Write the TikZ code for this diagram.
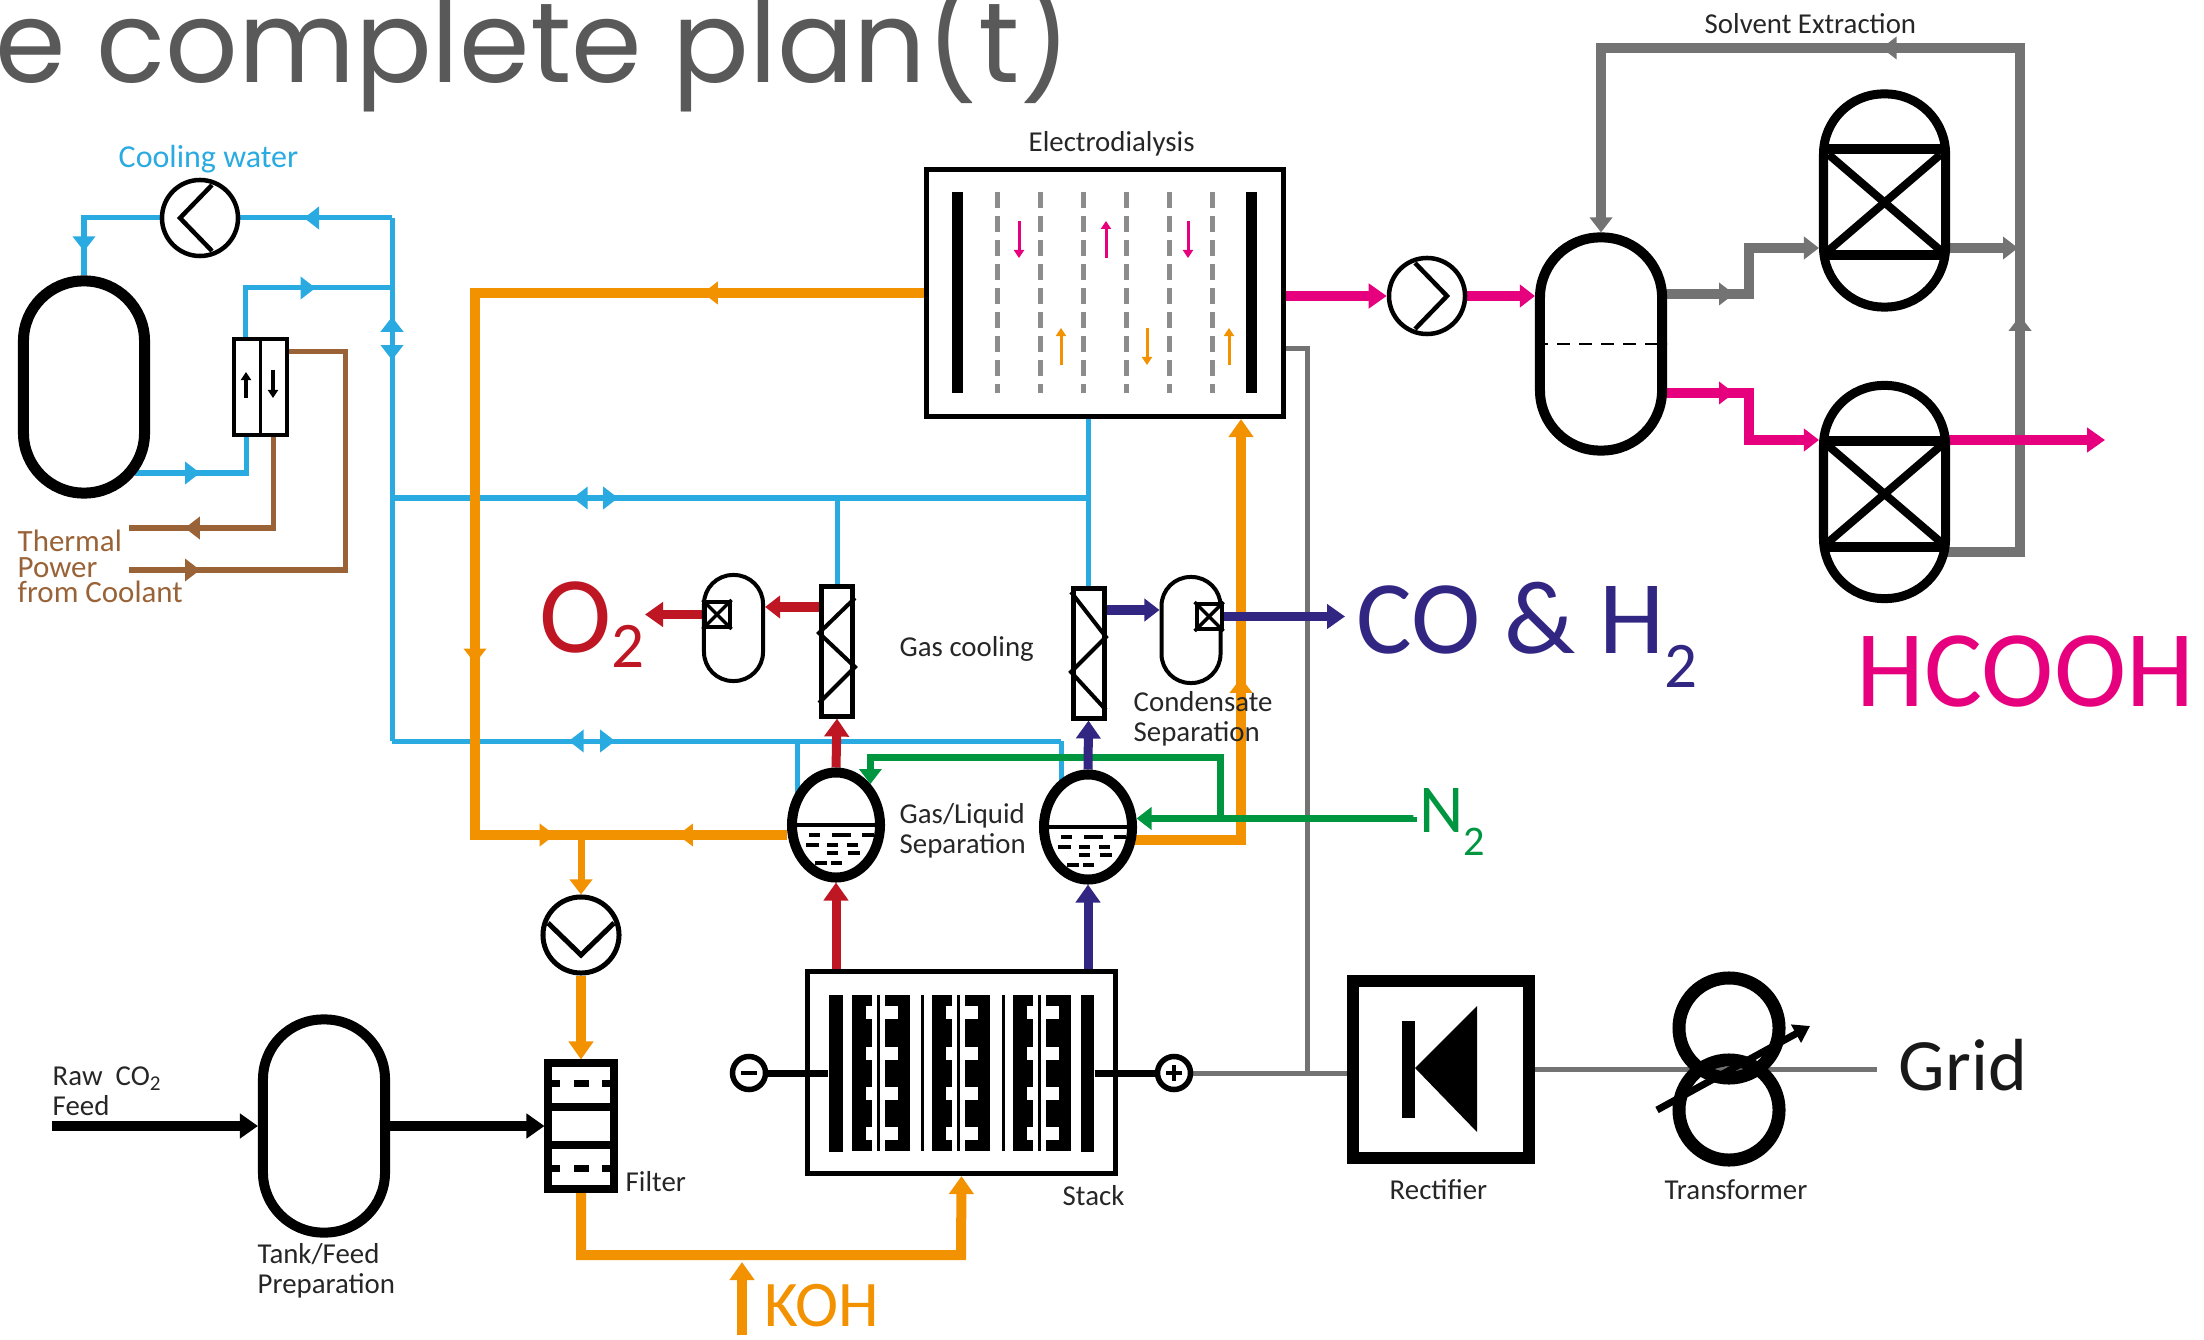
\documentclass[tikz,border=0pt]{standalone}
\usepackage{fontspec}
\setmainfont{Carlito}
\newfontfamily\titlefont{Poppins}
\usetikzlibrary{arrows.meta,calc,shapes.geometric,backgrounds,decorations.markings}

\definecolor{coolblue}{HTML}{29ABE2}
\definecolor{kohorange}{HTML}{F39200}
\definecolor{heatbrown}{HTML}{996337}
\definecolor{oxred}{HTML}{BE1622}
\definecolor{syngas}{HTML}{312783}
\definecolor{nitrogreen}{HTML}{009640}
\definecolor{acidpink}{HTML}{E6007E}
\definecolor{solventgray}{HTML}{737373}
\definecolor{titlegray}{HTML}{595959}

\tikzset{
    tipflow/.tip={Triangle[width=0.22cm,length=0.15cm]},
    tipend/.tip={Triangle[width=0.24cm,length=0.18cm]},
    tiptiny/.tip={Triangle[width=0.1cm,length=0.08cm]},
    flow/.style={postaction={decorate,decoration={markings,mark=at position #1 with {\arrow{tipflow}}}}},
    bluepipe/.style={coolblue,line width=0.05cm},
    brownpipe/.style={heatbrown,line width=0.05cm},
    orangepipe/.style={kohorange,line width=0.1cm},
    greenpipe/.style={nitrogreen,line width=0.07cm},
    redpipe/.style={oxred,line width=0.09cm},
    purplepipe/.style={syngas,line width=0.09cm},
    pinkpipe/.style={acidpink,line width=0.1cm},
    graypipe/.style={solventgray,line width=0.1cm},
    wire/.style={solventgray,line width=0.05cm},
    feedpipe/.style={black,line width=0.1cm},
    pill/.style={draw,fill=white,inner sep=0pt,line width=0.1cm,minimum width=1.22cm,minimum height=2.13cm,rounded corners=0.6cm},
    condpill/.style={draw,fill=white,inner sep=0pt,line width=0.04cm,minimum width=0.59cm,minimum height=1.06cm,rounded corners=0.29cm},
    pump/.style={draw,fill=white,circle,inner sep=0pt,line width=0.045cm,minimum size=0.76cm},
    chevron/.style={line width=0.045cm},
    panel/.style={draw,fill=white,rectangle,inner sep=0pt,line width=0.05cm},
    gascooler/.style={panel,minimum width=0.31cm,minimum height=1.29cm},
    separator/.style={draw,fill=white,ellipse,inner sep=0pt,line width=0.1cm,minimum width=0.88cm,minimum height=1.05cm},
    trapbox/.style={panel,line width=0.04cm,minimum width=0.25cm,minimum height=0.25cm},
    terminal/.style={draw,fill=white,circle,inner sep=0pt,line width=0.055cm,minimum size=0.33cm},
    membrane/.style={color=black!45,line width=0.05cm,dash pattern=on 0.16cm off 0.08cm},
    coil/.style={draw,circle,inner sep=0pt,line width=0.13cm,minimum size=1cm},
    lbl/.style={anchor=base west,inner sep=0pt,align=left,text=black!85,font=\fontsize{8.2}{8.3}\selectfont},
    biglbl/.style={anchor=base west,inner sep=0pt,font=\fontsize{#1}{#1}\selectfont},
}

\begin{document}
\begin{tikzpicture}[x=0.01cm,y=-0.01cm]
    \useasboundingbox (0,0) rectangle (2204,1340);

    % Title
    \node[anchor=base west,inner sep=0pt,text=titlegray,font=\titlefont\fontsize{32.3}{32.3}\selectfont] (title) at (-5,83) {e complete plan(t)};

    % Cooling loop equipment
    \node[pill,line width=0.11cm,minimum width=1.21cm,minimum height=2.12cm] (tankcool) at (84,387) {};
    \node[pump] (pumpcool) at (200,218) {};
    \node[panel,line width=0.04cm,minimum width=0.53cm,minimum height=0.96cm] (hxcool) at (260.5,387) {};
    \draw[line width=0.035cm] (hxcool.north) -- (hxcool.south);
    \draw[line width=0.035cm,-{tiptiny}] (246,398) -- (246,372);
    \draw[line width=0.035cm,-{tiptiny}] (273,370) -- (273,398);
    \draw[chevron] ($(pumpcool)+(12,-33)$) -- ($(pumpcool)+(-20,0)$) -- ($(pumpcool)+(12,33)$);

    % Electrodialysis
    \node[panel,minimum width=3.57cm,minimum height=2.47cm] (electrodialysis) at (1105,293) {};
    \fill (952,192) rectangle (963,393);
    \fill (1246,192) rectangle (1257,393);
    \foreach \mx in {997,1040,1083,1126,1169,1212}
        \draw[membrane] (\mx,192) -- (\mx,393);
    \foreach \ax/\ay/\by in {1019/221/258,1106/258/221,1188/221/258}
        \draw[acidpink,line width=0.03cm,-{tiptiny}] (\ax,\ay) -- (\ax,\by);
    \foreach \ax/\ay/\by in {1061/365/328,1147/328/365,1229/365/328}
        \draw[kohorange,line width=0.03cm,-{tiptiny}] (\ax,\ay) -- (\ax,\by);

    % Solvent extraction
    \node[pump] (pumpsolv) at (1427,296) {};
    \draw[chevron] ($(pumpsolv)+(-12,-33)$) -- ($(pumpsolv)+(20,0)$) -- ($(pumpsolv)+(-12,33)$);
    \node[pill] (solvent) at (1601,344) {};
    \draw[line width=0.025cm,dash pattern=on 0.13cm off 0.09cm] (solvent.west |- 0,344) -- (solvent.east |- 0,344);
    \node[pill,line width=0.09cm] (columnA) at (1884.5,200.5) {};
    \node[pill,line width=0.09cm] (columnB) at (1884.5,492) {};
    \foreach \colname in {columnA,columnB} {
        \draw[line width=0.1cm] ($(\colname)+(-61,-51)$) -- ($(\colname)+(61,-51)$);
        \draw[line width=0.1cm] ($(\colname)+(-61,55)$) -- ($(\colname)+(61,55)$);
        \draw[line width=0.08cm] ($(\colname)+(-56,-46)$) -- ($(\colname)+(56,50)$);
        \draw[line width=0.08cm] ($(\colname)+(-56,50)$) -- ($(\colname)+(56,-46)$);
    }

    % Gas cooling and condensate traps
    \node[gascooler] (coolerA) at (837,651.5) {};
    \node[gascooler] (coolerB) at (1088.5,653.5) {};
    \draw[line width=0.04cm] (855,598) -- (819,633) -- (855,667) -- (819,703);
    \draw[line width=0.04cm] (1071,592) -- (1106,637) -- (1071,672) -- (1106,710);
    \node[condpill] (trapA) at (733.5,628) {};
    \node[condpill] (trapB) at (1191,630) {};
    \node[trapbox] (boxA) at (717,614.5) {};
    \node[trapbox] (boxB) at (1209,616.5) {};
    \foreach \boxname in {boxA,boxB} {
        \draw[line width=0.035cm] (\boxname.north west) -- (\boxname.south east);
        \draw[line width=0.035cm] (\boxname.south west) -- (\boxname.north east);
    }

    % Gas/liquid separators
    \node[separator] (sepA) at (836,825) {};
    \node[separator] (sepB) at (1088,827) {};
    \foreach \sepname in {sepA,sepB} {
        \draw[line width=0.04cm] (\sepname.west) -- (\sepname.east);
        \foreach \dx/\dy/\dl in {-27/10/11,-4/10/19,26/10/12,-30/20/13,-9/20/11,11/20/11,-9/28/11,12/28/12,-21/38/12,-5/38/11}
            \draw[line width=0.035cm] ($(\sepname)+(\dx,\dy)$) -- ++(\dl,0);
    }

    % Feed side
    \node[pill] (tankfeed) at (324,1126) {};
    \node[pump,line width=0.05cm] (pumpkoh) at (581,935) {};
    \draw[chevron,line width=0.05cm] ($(pumpkoh)+(-33,-12)$) -- ($(pumpkoh)+(0,20)$) -- ($(pumpkoh)+(33,-12)$);
    \node[panel,line width=0.08cm,minimum width=0.65cm,minimum height=1.25cm] (filter) at (581,1126) {};
    \foreach \fy in {1107,1145}
        \draw[line width=0.08cm] (filter.west |- 0,\fy) -- (filter.east |- 0,\fy);
    \foreach \fy in {1083,1168} {
        \draw[line width=0.07cm] (550,\fy) -- (560,\fy);
        \draw[line width=0.07cm] (574,\fy) -- (589,\fy);
        \draw[line width=0.07cm] (602,\fy) -- (613,\fy);
    }

    % Stack
    \node[draw,rectangle,inner sep=0pt,line width=0.05cm,minimum width=3.08cm,minimum height=2.02cm] (stack) at (961.5,1072.5) {};
    \node[fill=black,inner sep=0pt,minimum width=0.14cm,minimum height=1.57cm] (plateL) at (836,1073.5) {};
    \node[fill=black,inner sep=0pt,minimum width=0.13cm,minimum height=1.57cm] (plateR) at (1087.5,1073.5) {};
    \foreach \ux in {0,80,161} {
        \fill ($(852,995)+(\ux,0)$) rectangle ($(872,1151)+(\ux,0)$);
        \fill ($(885,995)+(\ux,0)$) rectangle ($(910,1151)+(\ux,0)$);
        \fill ($(877,995)+(\ux,0)$) rectangle ($(879.5,1151)+(\ux,0)$);
        \foreach \ny in {1006,1047,1087,1127} {
            \fill[white] ($(866,\ny)+(\ux,0)$) rectangle ($(873,\ny+13)+(\ux,0)$);
            \fill[white] ($(884,\ny)+(\ux,0)$) rectangle ($(898,\ny+13)+(\ux,0)$);
        }
    }
    \foreach \tx in {921,1002}
        \fill (\tx,995) rectangle (\tx+2.5,1151);
    \node[terminal] (termminus) at (749,1073) {};
    \node[terminal] (termplus) at (1174,1073) {};
    \draw[line width=0.04cm] (741,1073) -- (757,1073);
    \draw[line width=0.04cm] (1166,1073) -- (1182,1073);
    \draw[line width=0.04cm] (1174,1065) -- (1174,1081);

    % Rectifier and transformer
    \node[draw,rectangle,fill=white,inner sep=0pt,line width=0.12cm,minimum width=1.76cm,minimum height=1.77cm] (rectifier) at (1441,1069.5) {};
    \fill (1402,1021) rectangle (1415,1118);
    \fill (1415,1068) -- (1477,1006) -- (1477,1132) -- cycle;
    \node[coil] (coilU) at (1729,1028) {};
    \node[coil] (coilL) at (1729,1110) {};
    \coordinate (trafotail) at (1657,1110);
    \coordinate (trafotip) at (1810,1026);
    \draw[line width=0.07cm,-{Triangle[width=0.2cm,length=0.16cm]}] (trafotail) -- (trafotip);

    % Labels
    \node[lbl] (lblelectro) at (1028,152) {Electrodialysis};
    \node[lbl] (lblsolvent) at (1704,34) {Solvent Extraction};
    \node[lbl] (lblgascool) at (899,656) {Gas cooling};
    \node[lbl] (lblcond) at (1133,741) {Condensate\\Separation};
    \node[lbl] (lblgasliq) at (899,853) {Gas/Liquid\\Separation};
    \node[lbl] (lblfilter) at (625,1191) {Filter};
    \node[lbl] (lblstack) at (1062,1205) {Stack};
    \node[lbl] (lblrect) at (1389,1199) {Rectifier};
    \node[lbl] (lbltrafo) at (1664,1199) {Transformer};
    \node[lbl] (lblraw) at (52,1115) {Raw\ \ CO\raisebox{-0.05cm}{\fontsize{6}{6}\selectfont 2}\\Feed};
    \node[lbl] (lbltank) at (257,1293) {Tank/Feed\\Preparation};
    \node[lbl,text=coolblue,font=\fontsize{9.1}{9.1}\selectfont] (lblcool) at (118,168) {Cooling water};
    \node[lbl,text=heatbrown,font=\fontsize{8.8}{7.3}\selectfont] (lblheat) at (17,603) {Thermal\\Power\\from Coolant};
    \node[biglbl=31,text=oxred] (lblox) at (539,652) {O\raisebox{-0.15cm}{\fontsize{18.5}{18.5}\selectfont 2}};
    \node[biglbl=29.7,text=syngas] (lblsyngas) at (1356,653) {CO \& H\raisebox{-0.34cm}{\fontsize{18.5}{18.5}\selectfont 2}};
    \node[biglbl=31,text=acidpink] (lblacid) at (1856,706) {HCOOH};
    \node[biglbl=19.5,text=nitrogreen] (lblnitro) at (1419,832) {N\raisebox{-0.23cm}{\fontsize{12}{12}\selectfont 2}};
    \node[biglbl=18.5,text=kohorange] (lblkoh) at (764,1326) {KOH};
    \node[biglbl=21,text=black!90] (lblgrid) at (1898,1090) {Grid};

    % Free ends and bends
    \coordinate (mainA) at (392,218);
    \coordinate (mainJ) at (392,288);
    \coordinate (mainU) at (392,498);
    \coordinate (mainB) at (392,741);
    \coordinate (blueU) at (1088,498);
    \coordinate (blueL) at (1061,741);
    \coordinate (sepBin) at (1061,785);
    \coordinate (sepAin) at (797,795);
    \coordinate (tankout) at (135,473);
    \coordinate (hxtop) at ($(hxcool.north)+(-15,0)$);
    \coordinate (hxbot) at ($(hxcool.south)+(-14,0)$);
    \coordinate (hxheat) at ($(hxcool.south)+(12.5,0)$);
    \coordinate (heatout) at (129,528);
    \coordinate (heatin) at (129,570);
    \coordinate (heatbend) at (345,570);
    \coordinate (hxhot) at (289,352);
    \coordinate (orbend) at (475,835);
    \coordinate (orjoin) at (581,835);
    \coordinate (orout) at (1130,840);
    \coordinate (edin) at ($(electrodialysis.south)+(136,0)$);
    \coordinate (kohbend) at (961,1255);
    \coordinate (kohtail) at (742,1335);
    \coordinate (kohtip) at (742,1262);
    \coordinate (nitroend) at (1413,817);
    \coordinate (nitrojoin) at (1220,817);
    \coordinate (nitrotop) at ($(sepA.50)+(0,-27)$);
    \coordinate (coolerAout) at (819,607);
    \coordinate (coolerBout) at (1106,610);
    \coordinate (oxtip) at (645,614.5);
    \coordinate (syntip) at (1345,616.5);
    \coordinate (grayout) at (1945,552);
    \coordinate (graytop) at (2020,48);
    \coordinate (grayA) at (1660,294);
    \coordinate (grayAbend) at (1749,248);
    \coordinate (grayAout) at (1950,248);
    \coordinate (grayAend) at (2018,248);
    \coordinate (pinkA) at (1660,393);
    \coordinate (pinkAbend) at (1749,440);
    \coordinate (pinkB) at (1945,440);
    \coordinate (pinkend) at (2105,440);
    \coordinate (edwire) at (1286,349);
    \coordinate (wirejoin) at (1307,1072);
    \coordinate (gridend) at (1877,1069.5);
    \coordinate (rawfeed) at (52,1126);

    % Connectors
    \begin{scope}[on background layer]
        \draw[line width=0.07cm] (termminus) -- (termminus -| plateL.west);
        \draw[line width=0.07cm] (termplus -| plateR.east) -- (termplus);

        \draw[wire] (edwire) -| (wirejoin);
        \draw[wire] (termplus.east) -- (termplus.east -| rectifier.west);
        \draw[wire] (rectifier.east) -- (gridend);

        \draw[bluepipe,flow=1.09cm] (pumpcool.west) -| (tankcool.north);
        \draw[bluepipe,flow=0.58] (mainA) -- (pumpcool.east);
        \draw[bluepipe,flow=1.42cm] (mainA) -- (mainB);
        \draw[bluepipe,flow=4.24cm] (mainB) -- (mainA);
        \draw[bluepipe,flow=1.19cm] (hxtop) |- (mainJ);
        \draw[bluepipe,flow=0.65cm] (tankout) -| (hxbot);
        \draw[bluepipe,flow=2.26cm] (mainU) -- (blueU);
        \draw[bluepipe,flow=5.15cm] (blueU) -- (mainU);
        \draw[bluepipe] (coolerA.north |- mainU) -- (coolerA.north);
        \draw[bluepipe] (coolerB.north) -- (coolerB.north |- electrodialysis.south);
        \draw[bluepipe,flow=2.23cm] (mainB) -- (blueL);
        \draw[bluepipe,flow=4.92cm] (blueL) -- (mainB);
        \draw[bluepipe] (blueL) -- (sepBin);
        \draw[bluepipe] (sepAin |- mainB) -- (sepAin);

        \draw[brownpipe,flow=1.79cm] (hxheat) |- (heatout);
        \draw[brownpipe,flow=0.71cm] (heatin) -| (hxhot -| heatbend) -- (hxhot);

        \draw[orangepipe,flow=2.21cm,flow=8.19cm,flow=10.7cm] (electrodialysis.west) -| (orbend) -- (orjoin);
        \draw[orangepipe,flow=1.09cm] (orjoin -| sepA.west) -- (orjoin);
        \draw[kohorange,line width=0.07cm,-{tipflow}] (orjoin) -- (pumpkoh.north);
        \draw[orangepipe,-{tipend}] (pumpkoh.south) -- (filter.north);
        \draw[orangepipe,-{tipend}] (filter.south) |- (kohbend) -- (stack.south);
        \draw[orangepipe,-{tipend}] (kohtail) -- (kohtip);
        \draw[orangepipe,flow=2.73cm,-{tipend}] (orout) -| (edin);

        \draw[greenpipe,-{tipflow}] (nitroend) -- (nitroend |- sepB.10) -- (sepB.10);
        \draw[greenpipe,-{tipflow}] (nitrojoin) |- (nitrotop) -- (sepA.50);

        \draw[redpipe,-{tipend}] (stack.north -| sepA.south) -- (sepA.south);
        \draw[redpipe,-{tipend}] (sepA.north) -- (coolerA.south);
        \draw[redpipe,-{tipflow}] (coolerAout) -- (coolerAout -| trapA.east);
        \draw[redpipe,-{tipend}] (boxA.west) -- (oxtip);

        \draw[purplepipe,-{tipend}] (stack.north -| sepB.south) -- (sepB.south);
        \draw[purplepipe,-{tipend}] (sepB.north) -- (coolerB.south);
        \draw[purplepipe,-{tipflow}] (coolerBout) -- (coolerBout -| trapB.west);
        \draw[purplepipe,-{tipend}] (boxB.east) -- (syntip);

        \draw[graypipe,flow=3.11cm,flow=7.17cm,-{tipflow}] (grayout) -| (graytop) -| (solvent.north);
        \draw[graypipe,flow=0.74cm,-{tipflow}] (grayA) -| (grayAbend) -- (columnA.west |- grayAbend);
        \draw[graypipe,-{tipflow}] (grayAout) -- (grayAend);

        \draw[pinkpipe,-{tipend}] (electrodialysis.east |- pumpsolv.west) -- (pumpsolv.west);
        \draw[pinkpipe,-{tipflow}] (pumpsolv.east) -- (pumpsolv.east -| solvent.west);
        \draw[pinkpipe,flow=0.74cm,-{tipflow}] (pinkA) -| (pinkAbend) -- (columnB.west |- pinkAbend);
        \draw[pinkpipe,-{tipend}] (pinkB) -- (pinkend);

        \draw[feedpipe,-{tipend}] (rawfeed) -- (tankfeed.west);
        \draw[feedpipe,-{tipend}] (tankfeed.east) -- (filter.west);
    \end{scope}
\end{tikzpicture}
\end{document}
